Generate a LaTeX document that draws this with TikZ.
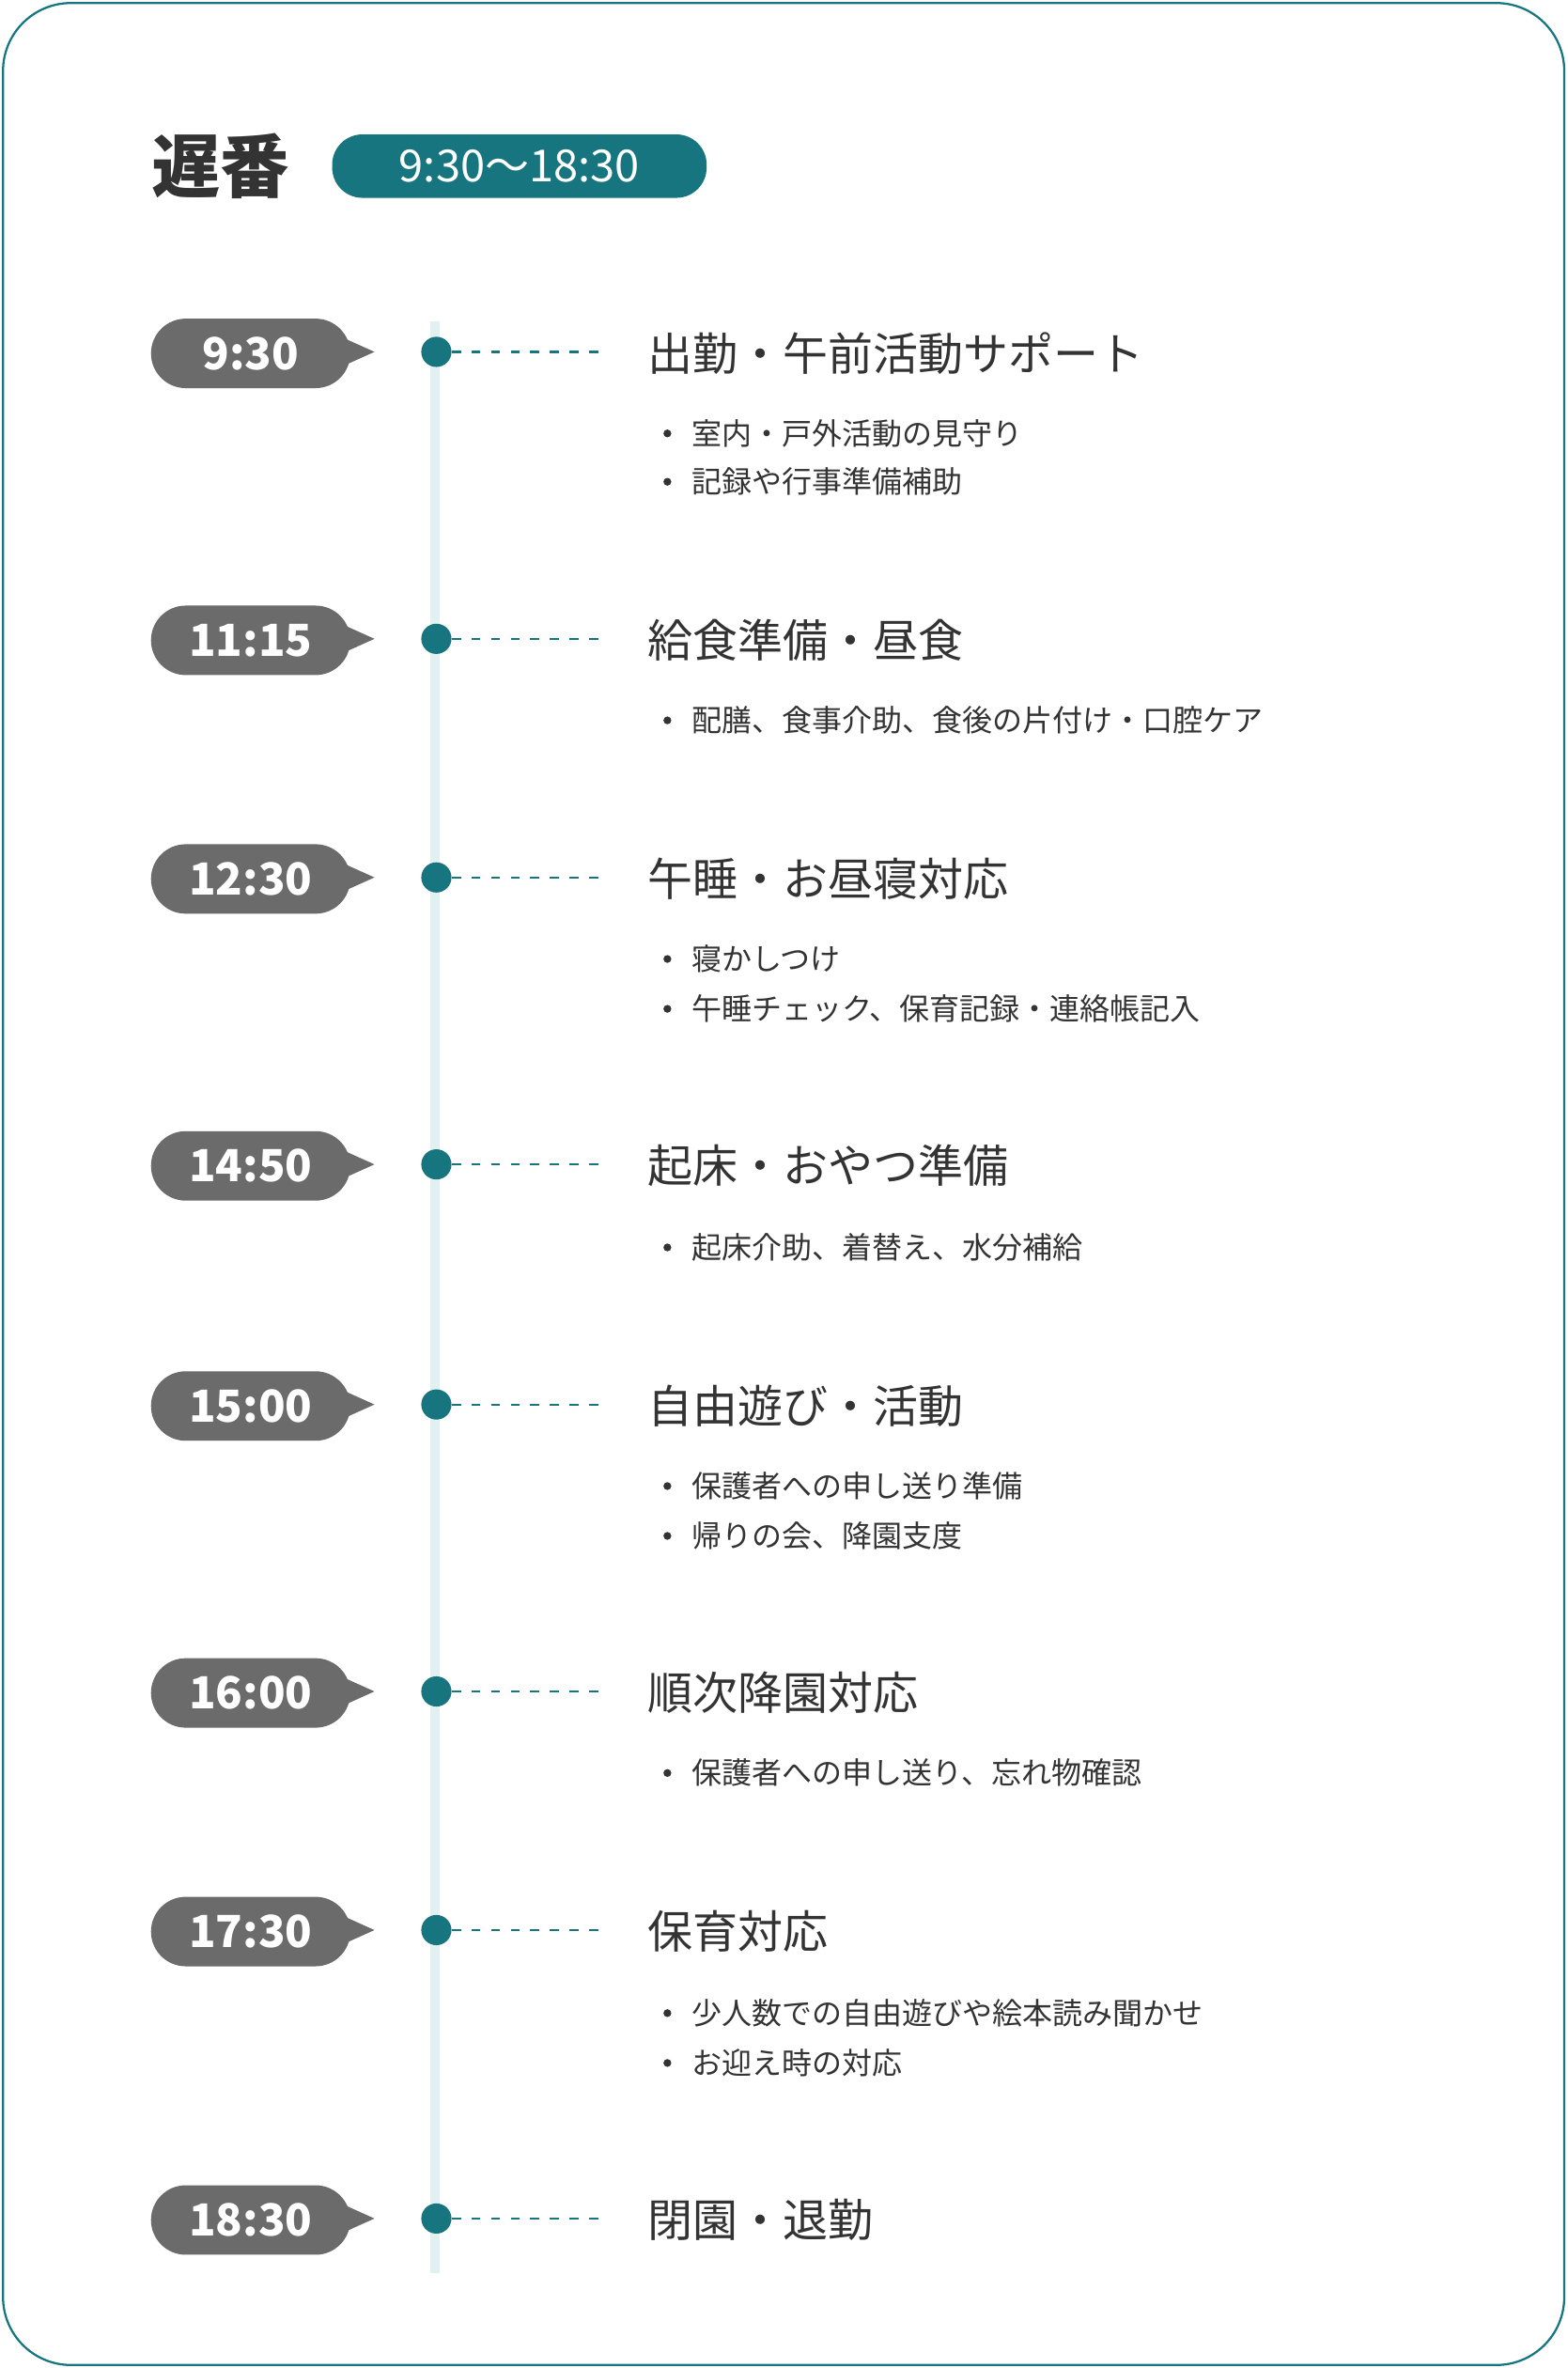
\documentclass[tikz,border=0pt]{standalone}
\usepackage{fontspec}
\setmainfont{Noto Sans CJK JP}
\usetikzlibrary{positioning,shapes.geometric}
\definecolor{teal}{HTML}{177580}
\definecolor{pillgray}{HTML}{6B6B6B}
\definecolor{ink}{HTML}{333333}
\definecolor{rail}{HTML}{E3F0F2}
\tikzset{
  timepill/.style={fill=pillgray,rounded corners=23*0.03cm,minimum width=132*0.03cm,minimum height=46*0.03cm,text=white,font=\fontsize{25}{28}\selectfont\bfseries,inner sep=0pt},
  dot/.style={circle,fill=teal,minimum size=20*0.03cm,inner sep=0pt},
  head/.style={anchor=west,text=ink,font=\fontsize{25.5}{28}\selectfont,inner sep=0pt},
  item/.style={anchor=west,text=ink,font=\fontsize{17}{20}\selectfont,inner sep=0pt},
}
\begin{document}
\begin{tikzpicture}[x=0.03cm,y=-0.03cm]
\useasboundingbox (0,0) rectangle (1038,1568);
\draw[teal,line width=1.2pt,rounded corners=45*0.03cm] (2,2) rectangle (1036,1566);
% title
\node[anchor=west,text=ink,font=\fontsize{39}{42}\selectfont\bfseries,inner sep=0pt] (title) at (100,110) {遅番};
\node[fill=teal,rounded corners=20*0.03cm,minimum width=248*0.03cm,minimum height=42*0.03cm,text=white,font=\fontsize{25}{28}\selectfont,inner sep=0pt] (span) at (344,110) {9:30〜18:30};
% rail
\draw[rail,line width=6*0.03cm] (288,213) coordinate (top) -- (288,1505) coordinate (bottom);
% slots
\foreach \y/\t/\h/\n in {233/9:30/出勤・午前活動サポート/a,423/11:15/給食準備・昼食/b,581/12:30/午睡・お昼寝対応/c,771/14:50/起床・おやつ準備/d,930/15:00/自由遊び・活動/e,1120/16:00/順次降園対応/f,1278/17:30/保育対応/g,1469/18:30/閉園・退勤/h}{
  \fill[pillgray] (228,\y-9) -- (248,\y) -- (228,\y+9) -- cycle;
  \node[timepill] (time\n) at (166,\y+1) {\t};
  \node[dot] (dot\n) at (289,\y) {};
  \coordinate (end\n) at (400,\y);
  \draw[teal,line width=1.2pt,dash pattern=on 6*0.03cm off 7*0.03cm] (dot\n.east) -- (end\n);
  \node[head] (head\n) at (429,\y+1) {\h};
}
% bullets
\foreach \y/\b/\n in {287/室内・戸外活動の見守り/a1,319/記録や行事準備補助/a2,477/配膳、食事介助、食後の片付け・口腔ケア/b1,635/寝かしつけ/c1,668/午睡チェック、保育記録・連絡帳記入/c2,826/起床介助、着替え、水分補給/d1,984/保護者への申し送り準備/e1,1017/帰りの会、降園支度/e2,1174/保護者への申し送り、忘れ物確認/f1,1333/少人数での自由遊びや絵本読み聞かせ/g1,1366/お迎え時の対応/g2}{
  \fill[ink] (442,\y) circle (2.6);
  \node[item] (item\n) at (458,\y) {\b};
}
\end{tikzpicture}
\end{document}
